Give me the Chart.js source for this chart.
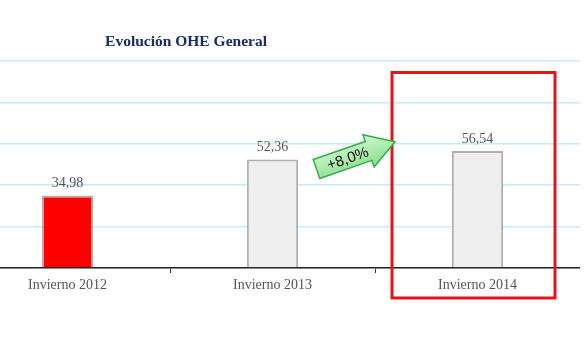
<!DOCTYPE html>
<html>
<head>
<meta charset="utf-8">
<script src="https://cdn.jsdelivr.net/npm/chart.js@4"></script>
<style>
    html, body { margin: 0; padding: 0; background: #ffffff; overflow: hidden; }
    #wrap { position: absolute; left: -35px; top: 0; width: 615px; height: 351px; }
</style>
</head>
<body>
<div id="wrap"><canvas id="ohe" width="615" height="351"></canvas></div>
<script>
// ---------------- Data ----------------

const categories = ["Invierno 2012", "Invierno 2013", "Invierno 2014"];
const values = [34.98, 52.36, 56.54];
const barColors = ["#ff0000", "#efefef", "#efefef"];
const yTicks = [0, 20, 40, 60, 80, 100];
const chartTitle = "Evolución OHE General";

const serif = "'Liberation Serif', 'DejaVu Serif', serif";

function fmt(v) {
    return v.toFixed(2).replace(".", ",");
}

// ---------------- Extras ----------------

const extras = {
    id: "extras",
    afterDatasetsDraw(chart) {
        const ctx = chart.ctx;
        const x = chart.scales.x;
        const area = chart.chartArea;

        // value labels
        ctx.save();
        ctx.font = "14px " + serif;
        ctx.fillStyle = "#555555";
        ctx.textAlign = "center";
        ctx.textBaseline = "middle";
        chart.getDatasetMeta(0).data.forEach((bar, i) => {
            ctx.fillText(fmt(values[i]), bar.x, bar.y - 12);
        });
        ctx.restore();

        // title
        ctx.save();
        ctx.font = "bold 15.5px " + serif;
        ctx.fillStyle = "#1b2a6b";
        ctx.textAlign = "center";
        ctx.textBaseline = "middle";
        ctx.fillText(chartTitle, 221, 42);
        ctx.restore();

        // red highlight box
        const c2 = x.getPixelForValue(2);
        ctx.save();
        ctx.strokeStyle = "#e3141c";
        ctx.lineWidth = 3;
        ctx.strokeRect(c2 - 85.5, area.top + 11.5, 163, area.bottom - area.top + 18.5);
        ctx.restore();

        // green growth arrow
        const growth = (values[2] / values[1] - 1) * 100;
        const tail = { x: 351.5, y: 169 };
        const tip = { x: 430, y: 141.7 };
        const ang = Math.atan2(tip.y - tail.y, tip.x - tail.x);
        const len = Math.hypot(tip.x - tail.x, tip.y - tail.y);
        const shaft = 10, head = 17, headLen = 28;

        ctx.save();
        ctx.translate(tail.x, tail.y);
        ctx.rotate(ang);
        ctx.beginPath();
        ctx.moveTo(0, -shaft);
        ctx.lineTo(len - headLen, -shaft);
        ctx.lineTo(len - headLen, -head);
        ctx.lineTo(len, 0);
        ctx.lineTo(len - headLen, head);
        ctx.lineTo(len - headLen, shaft);
        ctx.lineTo(0, shaft);
        ctx.closePath();
        const grad = ctx.createLinearGradient(0, -head, 0, head);
        grad.addColorStop(0, "#d2f7cf");
        grad.addColorStop(1, "#86e08a");
        ctx.fillStyle = grad;
        ctx.fill();
        ctx.strokeStyle = "#2fae4a";
        ctx.lineWidth = 1.5;
        ctx.stroke();

        ctx.font = "15px 'Liberation Sans', Arial, sans-serif";
        ctx.fillStyle = "#111111";
        ctx.textAlign = "center";
        ctx.textBaseline = "middle";
        ctx.fillText("+" + growth.toFixed(1).replace(".", ",") + "%", 33, 1);
        ctx.restore();
    }
};

// ---------------- Chart ----------------

new Chart(document.getElementById("ohe"), {
    type: "bar",
    data: {
        labels: categories,
        datasets: [{
            data: values,
            backgroundColor: barColors,
            borderColor: "#b0b0b0",
            borderWidth: 2,
            borderSkipped: "bottom",
            barPercentage: 0.25,
            categoryPercentage: 1
        }]
    },
    options: {
        responsive: false,
        animation: false,
        layout: {
            padding: { top: 61, left: 0, right: 0, bottom: 0 }
        },
        plugins: {
            legend: { display: false },
            tooltip: { enabled: false }
        },
        scales: {
            x: {
                offset: true,
                grid: {
                    offset: true,
                    drawOnChartArea: false,
                    drawTicks: true,
                    tickLength: 5,
                    color: "#333333"
                },
                border: { color: "#222222", width: 1.5 },
                ticks: {
                    padding: 4,
                    color: "#555555",
                    font: { family: serif, size: 14 }
                },
                afterFit: s => { s.height = 83; }
            },
            y: {
                min: 0,
                max: 100,
                afterBuildTicks: s => { s.ticks = yTicks.map(v => ({ value: v })); },
                grid: {
                    color: "#c2ecf7",
                    lineWidth: 1.5,
                    drawTicks: false
                },
                border: { display: false },
                ticks: { display: false },
                afterFit: s => { s.width = 0; }
            }
        }
    },
    plugins: [extras]
});
</script>
</body>
</html>
